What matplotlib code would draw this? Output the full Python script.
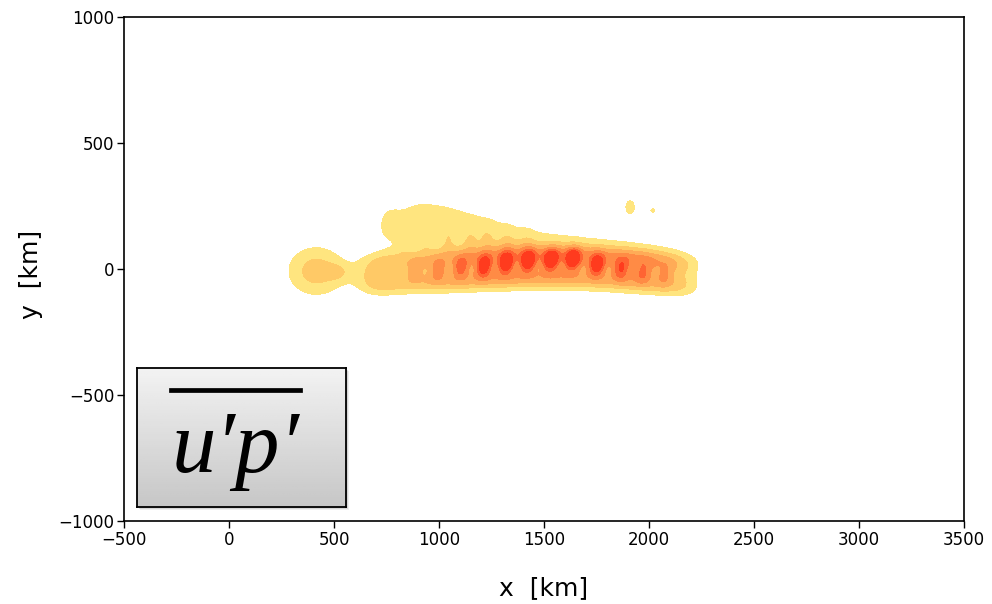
import numpy as np
import matplotlib.pyplot as plt
from matplotlib.patches import Rectangle
from matplotlib.lines import Line2D

# contour levels and fill colours of the eddy flux field
levels = [1, 2, 3, 4, 5, 6, 100]
fill_colors = ['#FFE57F', '#FFC966', '#FFAB57', '#FF8B45', '#FF6433', '#FF3B1E']

# main ridge along the jet axis (km), flat-topped across y
ridge_x = [700, 780, 885, 995, 1105, 1214, 1319, 1424, 1533, 1638, 1752, 1867, 1971, 2075, 2170]
ridge_y = [-20, -15, -10, -5, 0, 5, 8, 10, 10, 10, 5, 0, -5, -15, -25]
ridge_amp = [1.0, 1.35, 1.8, 2.1, 2.3, 2.4, 2.4, 2.4, 2.4, 2.4, 2.35, 2.3, 2.2, 1.9, 1.25]

# wave cores riding on the ridge
core_x = [885, 995, 1105, 1214, 1319, 1424, 1533, 1638, 1752, 1867, 1971, 2075]
core_y = [-4, -4, 8, 12, 24, 32, 36, 40, 16, 0, -16, -25]
core_amp = [1.0, 1.8, 2.4, 3.9, 4.1, 4.1, 4.1, 4.1, 3.8, 2.4, 1.5, 1.1]

# broad plume north of the ridge
plume_x = [760, 880, 1020, 1180, 1350, 1550, 1780, 2000]
plume_y = [170, 200, 190, 160, 120, 95, 70, 35]
plume_sx = [45, 80, 90, 100, 110, 120, 120, 120]
plume_sy = [60, 70, 70, 65, 60, 55, 50, 45]
plume_amp = [1.1, 1.0, 1.0, 0.95, 0.9, 0.85, 0.8, 0.7]

# small lobes on the northern flank
lobe_x = [830, 933, 1043, 1148, 1228, 1324, 1419]
lobe_y = [115, 120, 115, 110, 120, 110, 105]
lobe_amp = [1.0, 1.0, 0.9, 0.8, 0.7, 0.6, 0.5]

# western blob and detached patches
blob_x = [415, 520, 670, 1910, 2019]
blob_y = [-8, -12, -25, 245, 232]
blob_sx = [95, 40, 70, 22, 14]
blob_sy = [68, 25, 45, 28, 10]
blob_amp = [2.52, 1.0, 1.1, 1.5, 1.3]


def gauss(X, Y, x0, y0, sx, sy, a, tilt=0.0):
    c, s = np.cos(tilt), np.sin(tilt)
    u = (X - x0) * c - (Y - y0) * s
    v = (X - x0) * s + (Y - y0) * c
    return a * np.exp(-(u ** 2 / (2 * sx ** 2) + v ** 2 / (2 * sy ** 2)))


x = np.arange(-500, 3501, 5)
y = np.arange(-1000, 1001, 5)
X, Y = np.meshgrid(x, y)
Z = np.zeros_like(X, dtype=float)
for x0, y0, a in zip(ridge_x, ridge_y, ridge_amp):
    for dy, w in [(45, 1.0), (0, 0.3), (-45, 1.0)]:
        Z += gauss(X, Y, x0, y0 + dy, 60, 32, a * w)
for x0, y0, a in zip(core_x, core_y, core_amp):
    Z += gauss(X, Y, x0, y0, 22, 28, a, tilt=np.radians(20))
for x0, y0, sx, sy, a in zip(plume_x, plume_y, plume_sx, plume_sy, plume_amp):
    Z += gauss(X, Y, x0, y0, sx, sy, a)
for x0, y0, a in zip(lobe_x, lobe_y, lobe_amp):
    Z += gauss(X, Y, x0, y0, 25, 35, a)
for x0, y0, sx, sy, a in zip(blob_x, blob_y, blob_sx, blob_sy, blob_amp):
    Z += gauss(X, Y, x0, y0, sx, sy, a)

fig = plt.figure(figsize=(9.92, 6.04), dpi=100)
ax = fig.add_axes([124 / 992, 83 / 604, 840 / 992, 504 / 604])

ax.contourf(X, Y, Z, levels=levels, colors=fill_colors)

ax.set_xlim(-500, 3500)
ax.set_ylim(-1000, 1000)
ax.set_xticks(np.arange(-500, 3501, 500))
ax.set_yticks(np.arange(-1000, 1001, 500))
ax.tick_params(direction='out', length=5, width=1, labelsize=12, pad=2)
for s in ax.spines.values():
    s.set_linewidth(1.2)
ax.set_xlabel('x  [km]', fontsize=18, labelpad=20)
ax.set_ylabel('y  [km]', fontsize=18)
ax.yaxis.set_label_coords(-0.0964, 0.49)

# label box with grey gradient and shadow
bx0, by0, bw, bh = 137 / 992, 97 / 604, 209 / 992, 139 / 604
for k, al in enumerate([0.12, 0.2, 0.3]):
    off = 0.0045 - 0.0012 * k
    fig.patches.append(Rectangle((bx0 + off * 0.6, by0 - off), bw, bh, transform=fig.transFigure,
                                 facecolor='#777777', edgecolor='none', alpha=al, zorder=5))
grad = np.linspace(0.95, 0.78, 64).reshape(-1, 1)
img_ax = fig.add_axes([bx0, by0, bw, bh], zorder=6)
img_ax.imshow(grad, cmap='gray', vmin=0, vmax=1, aspect='auto', extent=[0, 1, 0, 1])
img_ax.set_xticks([])
img_ax.set_yticks([])
for s in img_ax.spines.values():
    s.set_linewidth(1.3)
img_ax.text(0.47, 0.41, 'u′p′', family=['Liberation Serif', 'DejaVu Serif'], style='italic',
            fontsize=64, ha='center', va='center', transform=img_ax.transAxes)
img_ax.add_line(Line2D([0.163, 0.78], [0.84, 0.84], color='black', lw=3.4,
                       transform=img_ax.transAxes))
img_ax.set_xlim(0, 1)
img_ax.set_ylim(0, 1)

fig.savefig('out.png', dpi=100)
